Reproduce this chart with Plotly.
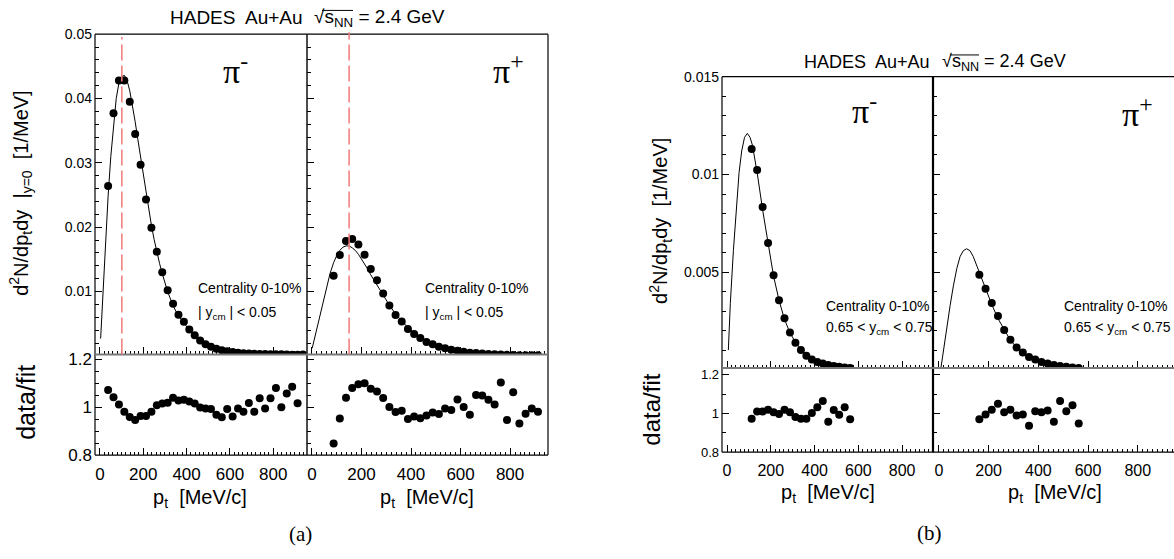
import plotly.graph_objects as go

W, H = 1174, 559

# ---------------- data: panel (a), |y_cm| < 0.05 ----------------
a_pim_pt = [37.5, 62.5, 87.5, 112.5, 137.5, 162.5, 187.5, 212.5, 237.5, 262.5, 287.5, 312.5,
            337.5, 362.5, 387.5, 412.5, 437.5, 462.5, 487.5, 512.5, 537.5, 562.5, 587.5, 612.5,
            637.5, 662.5, 687.5, 712.5, 737.5, 762.5, 787.5, 812.5, 837.5, 862.5, 887.5, 912.5, 937.5]
a_pim_y = [0.0264, 0.0377, 0.0428, 0.0428, 0.0395, 0.0345, 0.0297, 0.0243, 0.0199, 0.0162, 0.0130, 0.0102,
           0.0081, 0.0064, 0.0053, 0.0041, 0.0032, 0.0024, 0.0018, 0.00143, 0.0011, 0.00088, 0.00072, 0.0006,
           0.0005, 0.00043, 0.00038, 0.00034, 0.00031, 0.00029, 0.00027, 0.00026, 0.00025, 0.00022, 0.0002, 0.00019, 0.00023]
a_pim_ratio_pt = [37.5, 62.5, 87.5, 112.5, 137.5, 162.5, 187.5, 212.5, 237.5, 262.5, 287.5, 312.5,
                  337.5, 362.5, 387.5, 412.5, 437.5, 462.5, 487.5, 512.5, 537.5, 562.5, 587.5, 612.5,
                  637.5, 662.5, 687.5, 712.5, 737.5, 762.5, 787.5, 812.5, 837.5, 862.5, 887.5, 912.5]
a_pim_ratio = [1.072, 1.042, 1.011, 0.981, 0.959, 0.947, 0.963, 0.963, 0.981, 1.008, 1.015, 1.019,
               1.039, 1.028, 1.031, 1.024, 1.015, 0.999, 0.995, 0.992, 0.968, 0.958, 0.992, 0.961,
               0.995, 0.981, 1.017, 0.981, 1.037, 0.995, 1.037, 1.080, 1.000, 1.057, 1.085, 1.016]
a_pim_fit_pt = [3, 12.5, 25, 37.5, 50, 62.5, 75, 87.5, 100, 112.5, 125, 137.5, 150, 162.5, 175, 187.5,
                200, 212.5, 225, 237.5, 250, 262.5, 275, 287.5, 300, 312.5, 337.5, 362.5, 387.5, 412.5,
                437.5, 462.5, 487.5, 512.5, 537.5, 562.5, 587.5, 637.5, 687.5, 737.5, 787.5, 837.5, 912.5]
a_pim_fit_y = [0.0027, 0.0092, 0.0176, 0.0248, 0.0310, 0.0362, 0.0400, 0.0424, 0.0434, 0.0436, 0.0428, 0.0412,
               0.0390, 0.0364, 0.0336, 0.0308, 0.0280, 0.0252, 0.0227, 0.0203, 0.0181, 0.0161, 0.0144, 0.0128,
               0.0114, 0.0100, 0.0078, 0.0062, 0.00514, 0.0040, 0.00315, 0.0024, 0.00181, 0.00144, 0.00114,
               0.00092, 0.00073, 0.0005, 0.00037, 0.0003, 0.00026, 0.00024, 0.0002]

a_pip_pt = [87.5, 112.5, 137.5, 162.5, 187.5, 212.5, 237.5, 262.5, 287.5, 312.5, 337.5, 362.5,
            387.5, 412.5, 437.5, 462.5, 487.5, 512.5, 537.5, 562.5, 587.5, 612.5, 637.5, 662.5,
            687.5, 712.5, 737.5, 762.5, 787.5, 812.5, 837.5, 862.5, 887.5, 912.5]
a_pip_y = [0.01245, 0.01567, 0.01787, 0.01817, 0.01732, 0.01571, 0.01350, 0.01175, 0.0097, 0.00785, 0.00635,
           0.00534, 0.00419, 0.00343, 0.00278, 0.00218, 0.00183, 0.00143, 0.0012, 0.00096, 0.0008, 0.00064,
           0.00051, 0.00046, 0.00038, 0.00031, 0.00025, 0.00023, 0.00017, 0.00016, 0.00012, 0.00012, 0.0001, 0.0001]
a_pip_ratio = [0.849, 0.953, 1.039, 1.080, 1.096, 1.100, 1.077, 1.066, 1.038, 1.001, 0.980, 0.985,
               0.951, 0.961, 0.954, 0.965, 0.978, 0.972, 0.995, 0.988, 1.032, 1.001, 0.968, 1.051,
               1.049, 1.031, 1.011, 1.103, 0.947, 1.062, 0.932, 0.973, 0.995, 0.981]
a_pip_fit_pt = [1, 25, 50, 73, 87.5, 100, 112.5, 125, 137.5, 150, 162.5, 175, 187.5, 200, 212.5, 225,
                237.5, 262.5, 287.5, 312.5, 337.5, 362.5, 387.5, 412.5, 437.5, 462.5, 487.5, 512.5,
                550, 600, 650, 700, 750, 800, 850, 912.5]
a_pip_fit_y = [0.0012, 0.0052, 0.0092, 0.0128, 0.0145, 0.0156, 0.0164, 0.0169, 0.0171, 0.0171, 0.0168, 0.0164,
               0.0158, 0.0151, 0.0143, 0.0135, 0.0126, 0.0110, 0.0094, 0.0079, 0.0065, 0.0054, 0.0044, 0.0036,
               0.0029, 0.0023, 0.0019, 0.0015, 0.0011, 0.00071, 0.00048, 0.00033, 0.00023, 0.00017, 0.00013, 0.0001]
a_peak_pt = [101, 150]   # dashed red lines (pi-, pi+)

# ---------------- data: panel (b), 0.65 < y_cm < 0.75 ----------------
b_pim_pt = [112.5, 137.5, 162.5, 187.5, 212.5, 237.5, 262.5, 287.5, 312.5, 337.5, 362.5, 387.5,
            412.5, 437.5, 462.5, 487.5, 512.5, 537.5, 562.5]
b_pim_y = [0.0113, 0.01023, 0.00833, 0.0065, 0.00485, 0.00356, 0.00264, 0.00192, 0.00139, 0.00102,
           0.00073, 0.00053, 0.00041, 0.00033, 0.00025, 0.0002, 0.00016, 0.00013, 0.0001]
b_pim_ratio = [0.973, 1.010, 1.010, 1.020, 1.007, 0.998, 1.020, 1.007, 0.982, 0.973, 0.973, 1.002,
               1.032, 1.065, 0.957, 1.018, 0.993, 1.032, 0.970]
b_pim_fit_pt = [6, 15, 29, 44, 55, 67, 80, 93, 105, 116, 137.5, 162.5, 187.5, 212.5, 237.5, 262.5,
                287.5, 312.5, 337.5, 362.5, 387.5, 412.5, 437.5, 462.5, 487.5, 512.5, 537.5, 562.5]
b_pim_fit_y = [0.00102, 0.0034, 0.0061, 0.0086, 0.0101, 0.0112, 0.0119, 0.0121, 0.0119, 0.0115, 0.0101,
               0.0082, 0.0064, 0.0048, 0.00357, 0.00259, 0.0019, 0.00142, 0.00105, 0.00075, 0.00053,
               0.0004, 0.00031, 0.00026, 0.0002, 0.00016, 0.00013, 0.0001]

b_pip_pt = [162.5, 187.5, 212.5, 237.5, 262.5, 287.5, 312.5, 337.5, 362.5, 387.5, 412.5, 437.5,
            462.5, 487.5, 512.5, 537.5, 562.5]
b_pip_y = [0.00487, 0.00416, 0.00342, 0.00276, 0.00205, 0.00155, 0.00115, 0.00089, 0.00066, 0.00053,
           0.00041, 0.00033, 0.00026, 0.0002, 0.00016, 0.00013, 0.0001]
b_pip_ratio = [0.970, 0.995, 1.020, 1.050, 1.007, 1.020, 0.990, 0.995, 0.937, 1.012, 1.007, 1.015,
               0.957, 1.065, 1.012, 1.043, 0.948]
b_pip_fit_pt = [8, 20, 31, 45, 58, 72, 85, 98, 111, 125, 138, 150, 162.5, 187.5, 212.5, 237.5, 262.5,
                287.5, 312.5, 337.5, 362.5, 387.5, 412.5, 437.5, 462.5, 487.5, 512.5, 537.5, 562.5]
b_pip_fit_y = [0.00011, 0.0012, 0.0022, 0.0033, 0.0043, 0.0052, 0.0058, 0.0061, 0.0062, 0.0061, 0.0058,
               0.0054, 0.0050, 0.0042, 0.00335, 0.00263, 0.00204, 0.00152, 0.00116, 0.00089, 0.0007,
               0.00052, 0.00041, 0.00032, 0.00026, 0.0002, 0.00016, 0.00013, 0.0001]

# ---------------- layout helpers ----------------
SANS = "Liberation Sans, Arial, Helvetica, sans-serif"
SERIF = "Liberation Serif, Times New Roman, serif"


def px(x):
    return x / W


def py(y):
    return 1 - y / H


def dx(x0, x1):
    return [px(x0), px(x1)]


def dy(top, bot):
    return [py(bot), py(top)]


fig = go.Figure()

# (index, xdomain px, ydomain px, xrange, yrange)
panels = {
    1: (dx(95, 307), dy(27, 358), [-23, 956], [0.00023, 0.05]),
    2: (dx(307, 548), dy(27, 358), [-20, 953], [0.00023, 0.05]),
    3: (dx(95, 307), dy(358, 462), [-23, 956], [0.8, 1.22]),
    4: (dx(307, 548), dy(358, 462), [-20, 953], [0.8, 1.22]),
    5: (dx(722, 933), dy(71, 372), [-23, 941], [0.0001, 0.015]),
    6: (dx(933, 1174), dy(71, 372), [-24, 946], [0.0001, 0.015]),
    7: (dx(722, 933), dy(372, 459), [-23, 941], [0.8, 1.235]),
    8: (dx(933, 1174), dy(372, 459), [-24, 946], [0.8, 1.235]),
}

layout = dict(width=W, height=H, margin=dict(l=0, r=0, t=0, b=0),
              paper_bgcolor="white", plot_bgcolor="white", showlegend=False)

for i, (xd, yd, xr, yr) in panels.items():
    is_ratio = i in (3, 4, 7, 8)
    is_b = i >= 5
    left_col = i in (1, 3, 5, 7)
    xkey = "xaxis" if i == 1 else f"xaxis{i}"
    ykey = "yaxis" if i == 1 else f"yaxis{i}"
    layout[xkey] = dict(
        domain=xd, range=xr, anchor=("y" if i == 1 else f"y{i}"),
        showgrid=False, zeroline=False, showline=False,
        ticks="inside", ticklen=7, tickwidth=1, tickcolor="black",
        tick0=0, dtick=200,
        minor=dict(dtick=20, ticklen=3.5, tickwidth=1, tickcolor="black", ticks="inside", showgrid=False),
        showticklabels=is_ratio,
        tickfont=dict(family=SANS, size=16 if is_b else 17, color="black"),
        ticklabelstandoff=7,
    )
    if is_ratio:
        ydt, ymin = 0.2, (0.1 if is_b else 0.05)
        yfs = 13 if is_b else 17
        t0 = 0.8
    else:
        ydt, ymin = (0.005, 0.001) if is_b else (0.01, 0.002)
        yfs = 14
        t0 = 0
    layout[ykey] = dict(
        domain=yd, range=yr, anchor=("x" if i == 1 else f"x{i}"),
        showgrid=False, zeroline=False, showline=False,
        ticks="inside", ticklen=7, tickwidth=1, tickcolor="black",
        tick0=t0, dtick=ydt,
        minor=dict(dtick=ymin, ticklen=4, tickwidth=1, tickcolor="black", ticks="inside", showgrid=False),
        showticklabels=left_col,
        tickfont=dict(family=SANS, size=yfs, color="black"),
        ticklabelstandoff=2,
    )

fig.update_layout(**layout)


def ax(i):
    return ("x", "y") if i == 1 else (f"x{i}", f"y{i}")


def add_fit(i, xs, ys):
    xa, ya = ax(i)
    fig.add_trace(go.Scatter(x=xs, y=ys, mode="lines", line=dict(color="black", width=1),
                             xaxis=xa, yaxis=ya, hoverinfo="skip"))


def add_pts(i, xs, ys):
    xa, ya = ax(i)
    fig.add_trace(go.Scatter(x=xs, y=ys, mode="markers",
                             marker=dict(color="black", size=8, line=dict(width=0)),
                             xaxis=xa, yaxis=ya, cliponaxis=True))


# spectra
add_fit(1, a_pim_fit_pt, a_pim_fit_y)
add_pts(1, a_pim_pt, a_pim_y)
add_fit(2, a_pip_fit_pt, a_pip_fit_y)
add_pts(2, a_pip_pt, a_pip_y)
add_fit(5, b_pim_fit_pt, b_pim_fit_y)
add_pts(5, b_pim_pt, b_pim_y)
add_fit(6, b_pip_fit_pt, b_pip_fit_y)
add_pts(6, b_pip_pt, b_pip_y)
# ratios
add_pts(3, a_pim_ratio_pt, a_pim_ratio)
add_pts(4, a_pip_pt, a_pip_ratio)
add_pts(7, b_pim_pt, b_pim_ratio)
add_pts(8, b_pip_pt, b_pip_ratio)

shapes = []


def pline(x0, y0, x1, y1, color="black", width=1.2, dash=None):
    d = dict(type="line", xref="paper", yref="paper", x0=px(x0), y0=py(y0), x1=px(x1), y1=py(y1),
             line=dict(color=color, width=width), layer="above")
    if dash:
        d["line"]["dash"] = dash
    shapes.append(d)


# frames, panel (a)
pline(95, 27, 548, 27)            # top
pline(95, 462, 548, 462)          # bottom
pline(95, 27, 95, 462)            # left
pline(307, 27, 307, 462, width=1.4)   # divider
pline(548, 27, 548, 462)          # right
pline(95, 358, 548, 358, color="#7a7a7a", width=2)   # spectrum / ratio boundary
# frames, panel (b)
pline(722, 71, 1174, 71)
pline(722, 459, 1174, 459)
pline(722, 71, 722, 459)
pline(933, 71, 933, 459, width=2.2)
pline(722, 372, 1174, 372, color="#7a7a7a", width=2)

# dashed red lines at the spectrum maxima (a)
for i, pt, top in ((1, a_peak_pt[0], 0.991), (2, a_peak_pt[1], 1.006)):
    xa, ya = ax(i)
    shapes.append(dict(type="line", xref=xa, yref=f"{ya} domain", x0=pt, x1=pt, y0=0, y1=top,
                       line=dict(color="#f07a7a", width=1.5, dash="16px,5px"), layer="above"))

# radical overlines in titles
pline(322, 2.5, 353, 2.5, width=1)
pline(950, 48.5, 979, 48.5, width=1)

fig.update_layout(shapes=shapes)

ann = []


def text(x, y, s, size, xanchor="left", yanchor="middle", family=SANS, angle=0):
    ann.append(dict(xref="paper", yref="paper", x=px(x), y=py(y), text=s, showarrow=False,
                    xanchor=xanchor, yanchor=yanchor, textangle=angle,
                    font=dict(family=family, size=size, color="black")))


# titles
text(168, 10, "HADES  Au+Au", 19)
text(312, 10, "√s<sub>NN</sub> = 2.4 GeV", 19)
text(802, 56, "HADES  Au+Au", 18)
text(940, 56, "√s<sub>NN</sub> = 2.4 GeV", 18)

# particle labels
text(221, 63, "π<sup>-</sup>", 34, family=SERIF)
text(491, 63, "π<sup>+</sup>", 34, family=SERIF)
text(850, 104, "π<sup>-</sup>", 34, family=SERIF)
text(1120, 107, "π<sup>+</sup>", 34, family=SERIF)

# centrality / rapidity labels
text(196, 289, "Centrality 0-10%", 14)
text(196, 315, "| y<sub>cm</sub> | < 0.05", 14)
text(423, 289, "Centrality 0-10%", 14)
text(423, 315, "| y<sub>cm</sub> | < 0.05", 14)
text(824, 308, "Centrality 0-10%", 14)
text(824, 331, "0.65 < y<sub>cm</sub> < 0.75", 14)
text(1062, 308, "Centrality 0-10%", 14)
text(1062, 331, "0.65 < y<sub>cm</sub> < 0.75", 14)

# axis titles
text(21, 191, "d<sup>2</sup>N/dp<sub>t</sub>dy  |<sub>y=0</sub>  [1/MeV]", 20, xanchor="center", angle=-90)
text(26, 408, "data/fit", 25, xanchor="center", angle=-90)
text(661, 220, "d<sup>2</sup>N/dp<sub>t</sub>dy  [1/MeV]", 20, xanchor="center", angle=-90)
text(652, 415, "data/fit", 24, xanchor="center", angle=-90)
text(200, 507, "p<sub>t</sub>  [MeV/c]", 20, xanchor="center")
text(427, 507, "p<sub>t</sub>  [MeV/c]", 20, xanchor="center")
text(828, 502, "p<sub>t</sub>  [MeV/c]", 20, xanchor="center")
text(1055, 502, "p<sub>t</sub>  [MeV/c]", 20, xanchor="center")

# sub-figure labels
text(300, 543, "(a)", 21, xanchor="center", family=SERIF)
text(929, 542, "(b)", 21, xanchor="center", family=SERIF)

fig.update_layout(annotations=ann)

fig.write_html("out.html")
